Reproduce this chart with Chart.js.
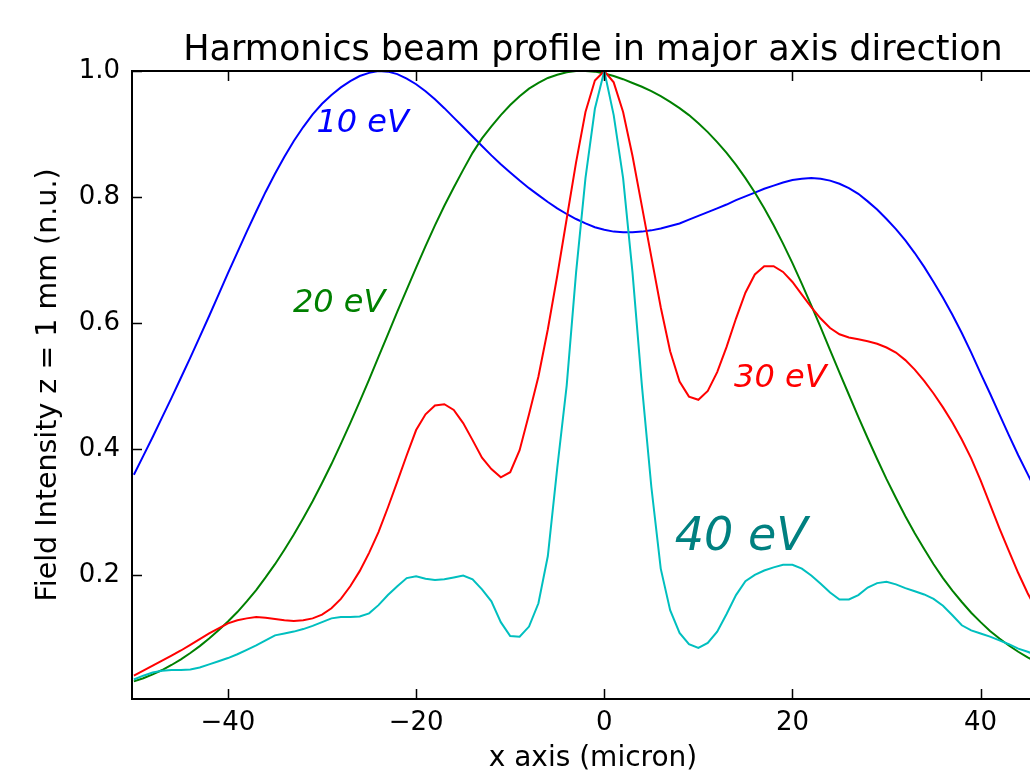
<!DOCTYPE html>
<html>
<head>
<meta charset="utf-8">
<title>Harmonics beam profile in major axis direction</title>
<script src="https://cdn.jsdelivr.net/npm/chart.js@4.4.1/dist/chart.umd.min.js"></script>
<style>
  html, body { margin: 0; padding: 0; background: #ffffff; overflow: hidden; width: 1030px; height: 776px; }
  canvas { display: block; }
</style>
</head>
<body>
<canvas id="profile" width="1060" height="776"></canvas>
<script>
// Transverse position across the beam (micron), one sample per micron
const positions = [
  -50,-49,-48,-47,-46,-45,-44,-43,-42,-41,-40,-39,-38,-37,-36,-35,-34,-33,-32,-31,
  -30,-29,-28,-27,-26,-25,-24,-23,-22,-21,-20,-19,-18,-17,-16,-15,-14,-13,-12,-11,
  -10,-9,-8,-7,-6,-5,-4,-3,-2,-1,0,1,2,3,4,5,6,7,8,9,
  10,11,12,13,14,15,16,17,18,19,20,21,22,23,24,25,26,27,28,29,
  30,31,32,33,34,35,36,37,38,39,40,41,42,43,44,45,46,47
];

// Normalised field intensity at z = 1 mm for each harmonic
const field10eV = [
  0.359,0.389,0.419,0.450,0.481,0.513,0.545,0.578,0.611,0.645,0.679,0.712,0.745,0.777,0.808,0.837,0.864,0.889,0.911,0.931,
  0.948,0.962,0.974,0.984,0.992,0.997,1.000,0.999,0.995,0.988,0.979,0.968,0.955,0.941,0.926,0.911,0.896,0.881,0.866,0.852,
  0.839,0.826,0.814,0.803,0.792,0.782,0.773,0.765,0.758,0.752,0.748,0.745,0.744,0.744,0.745,0.747,0.750,0.754,0.758,0.764,
  0.770,0.776,0.782,0.788,0.795,0.801,0.807,0.813,0.818,0.823,0.827,0.829,0.830,0.829,0.826,0.821,0.814,0.805,0.793,0.780,
  0.765,0.749,0.731,0.711,0.689,0.665,0.640,0.613,0.584,0.553,0.520,0.488,0.455,0.422,0.390,0.360,0.330,0.302
];
const field20eV = [
  0.031,0.036,0.042,0.049,0.057,0.066,0.076,0.087,0.099,0.112,0.126,0.141,0.158,0.176,0.196,0.217,0.240,0.264,0.290,0.317,
  0.346,0.376,0.408,0.441,0.475,0.510,0.546,0.582,0.618,0.653,0.688,0.722,0.755,0.786,0.815,0.843,0.870,0.893,0.912,0.930,
  0.946,0.960,0.972,0.981,0.989,0.994,0.998,1.000,1.000,0.999,0.996,0.992,0.987,0.981,0.975,0.968,0.960,0.951,0.941,0.930,
  0.917,0.903,0.887,0.870,0.851,0.830,0.807,0.782,0.755,0.726,0.695,0.662,0.628,0.593,0.557,0.521,0.486,0.451,0.417,0.384,
  0.352,0.322,0.293,0.266,0.241,0.217,0.195,0.175,0.157,0.140,0.125,0.111,0.099,0.088,0.078,0.069,0.061,0.054
];
const field30eV = [
  0.040,0.048,0.056,0.064,0.072,0.080,0.089,0.098,0.107,0.115,0.123,0.128,0.131,0.133,0.132,0.130,0.128,0.127,0.128,0.131,
  0.137,0.147,0.162,0.182,0.206,0.235,0.268,0.307,0.348,0.390,0.430,0.455,0.469,0.471,0.462,0.441,0.414,0.386,0.368,0.355,
  0.363,0.398,0.455,0.515,0.590,0.675,0.765,0.855,0.935,0.985,1.000,0.982,0.935,0.865,0.785,0.705,0.625,0.555,0.507,0.483,
  0.478,0.492,0.522,0.562,0.607,0.648,0.677,0.690,0.690,0.681,0.665,0.645,0.625,0.607,0.592,0.582,0.577,0.574,0.571,0.567,
  0.561,0.553,0.541,0.526,0.508,0.488,0.466,0.442,0.415,0.385,0.350,0.312,0.274,0.238,0.203,0.171,0.143,0.119
];
const field40eV = [
  0.034,0.040,0.045,0.048,0.049,0.049,0.050,0.053,0.058,0.063,0.068,0.074,0.081,0.088,0.096,0.104,0.107,0.110,0.114,0.119,
  0.125,0.131,0.133,0.133,0.134,0.139,0.152,0.168,0.182,0.195,0.198,0.194,0.192,0.193,0.196,0.199,0.193,0.177,0.158,0.125,
  0.103,0.102,0.118,0.155,0.230,0.370,0.500,0.680,0.830,0.940,1.000,0.930,0.830,0.680,0.500,0.340,0.210,0.144,0.108,0.090,
  0.084,0.092,0.110,0.138,0.168,0.190,0.200,0.207,0.212,0.216,0.216,0.210,0.199,0.186,0.172,0.161,0.161,0.168,0.180,0.187,
  0.189,0.185,0.179,0.174,0.169,0.162,0.151,0.136,0.120,0.112,0.107,0.102,0.096,0.090,0.083,0.078,0.072,0.066
];

// Axis ticks
const xTicks = [-40, -20, 0, 20, 40];
const yTicks = [0.2, 0.4, 0.6, 0.8, 1.0];

// In-plot curve labels, anchored in data coordinates (left edge, baseline)
const labelTexts = ['10 eV', '20 eV', '30 eV', '40 eV'];
const labelX = [-30.6, -33.1, 13.8, 7.5];
const labelY = [0.903, 0.618, 0.499, 0.240];

const FONT = '"DejaVu Sans", "Liberation Sans", sans-serif';
const lineColors = ['#0000ff', '#008000', '#ff0000', '#00bfbf'];
const labelColors = ['#0000ff', '#008000', '#ff0000', '#008080'];
const labelSizes = [32, 32, 32, 46];
const seriesValues = [field10eV, field20eV, field30eV, field40eV];

const datasets = seriesValues.map((vals, i) => ({
  label: labelTexts[i],
  data: positions.map((x, j) => ({ x: x, y: vals[j] })),
  borderColor: lineColors[i],
  backgroundColor: lineColors[i],
  borderWidth: 2,
  pointRadius: 0,
  tension: 0,
  fill: false,
  order: 4 - i
}));

// Frame with inward ticks, title, axis titles and curve labels
const decorations = {
  id: 'decorations',
  afterDatasetsDraw(chart) {
    const { ctx, chartArea: a, scales } = chart;
    const xs = scales.x, ys = scales.y;
    ctx.save();
    ctx.strokeStyle = '#000000';
    ctx.lineWidth = 2;
    ctx.strokeRect(a.left, a.top, a.right - a.left, a.bottom - a.top);

    ctx.lineWidth = 1.5;
    ctx.beginPath();
    xTicks.forEach(v => {
      const px = Math.round(xs.getPixelForValue(v)) + 0.5;
      ctx.moveTo(px, a.bottom); ctx.lineTo(px, a.bottom - 10);
      ctx.moveTo(px, a.top); ctx.lineTo(px, a.top + 10);
    });
    yTicks.forEach(v => {
      const py = Math.round(ys.getPixelForValue(v)) + 0.5;
      ctx.moveTo(a.left, py); ctx.lineTo(a.left + 10, py);
      ctx.moveTo(a.right, py); ctx.lineTo(a.right - 10, py);
    });
    ctx.stroke();

    // curve labels
    ctx.textAlign = 'left';
    ctx.textBaseline = 'alphabetic';
    labelTexts.forEach((t, i) => {
      ctx.font = 'italic ' + labelSizes[i] + 'px ' + FONT;
      ctx.fillStyle = labelColors[i];
      ctx.fillText(t, xs.getPixelForValue(labelX[i]), ys.getPixelForValue(labelY[i]));
    });

    // title and axis titles
    const cx = (a.left + a.right) / 2;
    ctx.fillStyle = '#000000';
    ctx.textAlign = 'center';
    ctx.font = '35px ' + FONT;
    ctx.fillText('Harmonics beam profile in major axis direction', cx, 60);
    ctx.font = '28px ' + FONT;
    ctx.fillText('x axis (micron)', cx, 766);
    ctx.font = '28.5px ' + FONT;
    ctx.translate(56, (a.top + a.bottom) / 2);
    ctx.rotate(-Math.PI / 2);
    ctx.fillText('Field Intensity z = 1 mm (n.u.)', 0, 0);
    ctx.restore();
  }
};

new Chart(document.getElementById('profile'), {
  type: 'line',
  data: { datasets: datasets },
  options: {
    responsive: false,
    animation: false,
    devicePixelRatio: 1,
    layout: { padding: { top: 71, right: 6, left: 0, bottom: 0 } },
    plugins: { legend: { display: false }, tooltip: { enabled: false }, title: { display: false } },
    scales: {
      x: {
        type: 'linear',
        min: -50.2,
        max: 47.8,
        afterBuildTicks: s => { s.ticks = xTicks.map(v => ({ value: v })); },
        afterFit: s => { s.height = 77; },
        grid: { display: false, drawTicks: false },
        border: { display: false },
        ticks: {
          padding: 9,
          color: '#000000',
          font: { family: FONT, size: 26 },
          maxRotation: 0,
          autoSkip: false,
          callback: v => (v < 0 ? '\u2212' + Math.abs(v) : String(v))
        }
      },
      y: {
        type: 'linear',
        min: 0.003,
        max: 1.0,
        afterBuildTicks: s => { s.ticks = yTicks.map(v => ({ value: v })); },
        afterFit: s => { s.width = 132; },
        grid: { display: false, drawTicks: false },
        border: { display: false },
        ticks: {
          padding: 12,
          color: '#000000',
          font: { family: FONT, size: 26 },
          autoSkip: false,
          callback: v => Number(v).toFixed(1)
        }
      }
    }
  },
  plugins: [decorations]
});
</script>
</body>
</html>
